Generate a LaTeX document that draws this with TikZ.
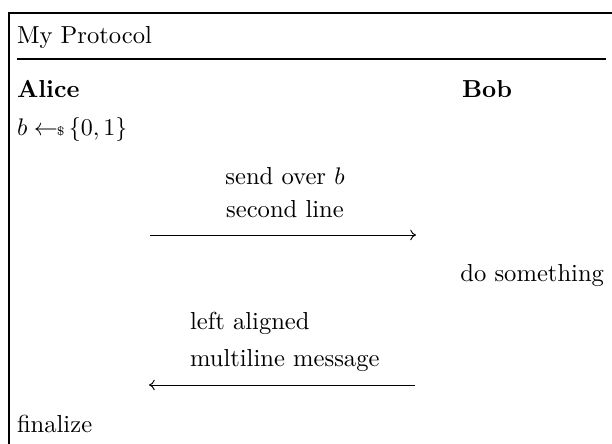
\documentclass[tikz,border=0pt]{standalone}
\usetikzlibrary{arrows.meta}
\begin{document}
\begin{tikzpicture}[x=0.4167pt,y=-0.4167pt,
  txt/.style={inner sep=0pt,outer sep=0pt,font=\fontsize{10.25}{12}\selectfont},
  frameline/.style={line width=0.5pt},
  msg/.style={line width=0.4pt,-{Computer Modern Rightarrow[length=2.4pt,width=4.4pt]}}]
\useasboundingbox (0,0) rectangle (612,444);
% frame
\coordinate (fbl) at (9,444);
\coordinate (ftl) at (9,13);
\coordinate (ftr) at (612,13);
\draw[frameline] (fbl) -- (ftl) -- (ftr);
\node[txt,anchor=base west] (title) at (17,44) {My Protocol};
\coordinate (sepl) at (17,59);
\coordinate (sepr) at (606,59);
\draw[frameline] (sepl) -- (sepr);
% parties
\node[txt,anchor=base west] (alice) at (17,98) {\textbf{Alice}};
\node[txt,anchor=base west] (bob) at (462,98) {\textbf{Bob}};
\node[txt,anchor=base west] (samp) at (17,136) {$b \gets\!\!\mbox{\tiny\$}\,\{0,1\}$};
% message 1
\node[txt,anchor=base] (m1a) at (285,185) {send over $b$};
\node[txt,anchor=base] (m1b) at (285,218) {second line};
\coordinate (a1s) at (150,235);
\coordinate (a1e) at (416,235);
\draw[msg] (a1s) -- (a1e);
\node[txt,anchor=base east] (bobact) at (604,282) {do something};
% message 2
\node[txt,anchor=base west] (m2a) at (190,330) {left aligned};
\node[txt,anchor=base west] (m2b) at (190,367) {multiline message};
\coordinate (a2s) at (415,385);
\coordinate (a2e) at (149,385);
\draw[msg] (a2s) -- (a2e);
\node[txt,anchor=base west] (fin) at (17,433) {finalize};
\end{tikzpicture}
\end{document}
